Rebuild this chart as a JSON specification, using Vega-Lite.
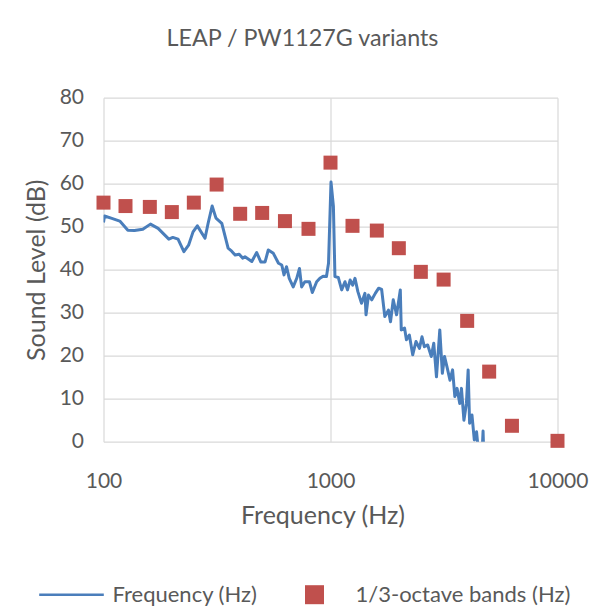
{
  "$schema": "https://vega.github.io/schema/vega-lite/v6.json",
  "width": 454,
  "height": 344,
  "autosize": {"type": "none"},
  "padding": {"left": 103.5, "top": 97.7, "right": 43.5, "bottom": 174.3},
  "background": "white",
  "title": {
    "text": "LEAP / PW1127G variants",
    "fontSize": 23.3,
    "font": "Lato",
    "fontWeight": "normal",
    "color": "#595959",
    "anchor": "middle",
    "dx": -28,
    "offset": 35
  },
  "config": {
    "view": {"stroke": null},
    "axis": {
      "labelFont": "Lato",
      "titleFont": "Lato",
      "labelColor": "#595959",
      "titleColor": "#595959",
      "titleFontWeight": "normal",
      "gridColor": "#D9D9D9",
      "gridWidth": 1.2,
      "domain": false,
      "ticks": false,
      "labelOverlap": false,
      "labelFlush": false
    },
    "legend": {
      "labelFont": "Lato",
      "labelColor": "#595959",
      "labelLimit": 0
    }
  },
  "datasets": {
    "spectrum": [
      {"frequency": 100, "level": 51.0},
      {"frequency": 101, "level": 52.5},
      {"frequency": 108, "level": 52.0},
      {"frequency": 118, "level": 51.3},
      {"frequency": 128, "level": 49.2},
      {"frequency": 137, "level": 49.1},
      {"frequency": 149, "level": 49.4},
      {"frequency": 161, "level": 50.6},
      {"frequency": 174, "level": 49.6},
      {"frequency": 194, "level": 47.1},
      {"frequency": 202, "level": 47.5},
      {"frequency": 213, "level": 47.1},
      {"frequency": 226, "level": 44.2},
      {"frequency": 237, "level": 45.7},
      {"frequency": 248, "level": 48.8},
      {"frequency": 259, "level": 50.2},
      {"frequency": 280, "level": 47.3},
      {"frequency": 289, "level": 50.8},
      {"frequency": 301, "level": 54.8},
      {"frequency": 313, "level": 52.0},
      {"frequency": 332, "level": 50.8},
      {"frequency": 354, "level": 45.0},
      {"frequency": 367, "level": 44.3},
      {"frequency": 380, "level": 43.4},
      {"frequency": 396, "level": 43.6},
      {"frequency": 410, "level": 42.7},
      {"frequency": 420, "level": 43.0},
      {"frequency": 450, "level": 41.9},
      {"frequency": 473, "level": 44.0},
      {"frequency": 493, "level": 41.8},
      {"frequency": 515, "level": 41.8},
      {"frequency": 532, "level": 44.6},
      {"frequency": 560, "level": 43.8},
      {"frequency": 590, "level": 41.5},
      {"frequency": 610, "level": 41.1},
      {"frequency": 624, "level": 38.8},
      {"frequency": 640, "level": 40.7},
      {"frequency": 658, "level": 38.0},
      {"frequency": 685, "level": 36.0},
      {"frequency": 710, "level": 38.0},
      {"frequency": 730, "level": 40.3},
      {"frequency": 746, "level": 36.0},
      {"frequency": 771, "level": 37.2},
      {"frequency": 808, "level": 37.2},
      {"frequency": 832, "level": 34.7},
      {"frequency": 869, "level": 37.2},
      {"frequency": 898, "level": 38.0},
      {"frequency": 928, "level": 38.5},
      {"frequency": 960, "level": 38.4},
      {"frequency": 980, "level": 41.5},
      {"frequency": 1005, "level": 60.4},
      {"frequency": 1030, "level": 54.7},
      {"frequency": 1046, "level": 38.4},
      {"frequency": 1082, "level": 38.2},
      {"frequency": 1120, "level": 35.3},
      {"frequency": 1158, "level": 37.2},
      {"frequency": 1188, "level": 35.3},
      {"frequency": 1220, "level": 37.6},
      {"frequency": 1252, "level": 36.4},
      {"frequency": 1282, "level": 38.0},
      {"frequency": 1320, "level": 34.9},
      {"frequency": 1370, "level": 32.2},
      {"frequency": 1418, "level": 34.5},
      {"frequency": 1434, "level": 29.5},
      {"frequency": 1470, "level": 34.1},
      {"frequency": 1520, "level": 33.0},
      {"frequency": 1575, "level": 34.5},
      {"frequency": 1630, "level": 35.7},
      {"frequency": 1680, "level": 35.4},
      {"frequency": 1735, "level": 29.1},
      {"frequency": 1800, "level": 30.6},
      {"frequency": 1838, "level": 27.9},
      {"frequency": 1890, "level": 33.0},
      {"frequency": 1955, "level": 29.5},
      {"frequency": 2030, "level": 35.3},
      {"frequency": 2050, "level": 26.0},
      {"frequency": 2120, "level": 26.4},
      {"frequency": 2160, "level": 23.7},
      {"frequency": 2225, "level": 24.8},
      {"frequency": 2302, "level": 20.2},
      {"frequency": 2380, "level": 23.3},
      {"frequency": 2465, "level": 21.7},
      {"frequency": 2530, "level": 24.4},
      {"frequency": 2590, "level": 22.1},
      {"frequency": 2680, "level": 22.5},
      {"frequency": 2780, "level": 19.8},
      {"frequency": 2850, "level": 22.9},
      {"frequency": 2930, "level": 15.1},
      {"frequency": 3030, "level": 26.0},
      {"frequency": 3110, "level": 15.9},
      {"frequency": 3180, "level": 19.8},
      {"frequency": 3260, "level": 17.4},
      {"frequency": 3360, "level": 14.3},
      {"frequency": 3450, "level": 16.7},
      {"frequency": 3530, "level": 10.5},
      {"frequency": 3610, "level": 12.4},
      {"frequency": 3710, "level": 8.9},
      {"frequency": 3775, "level": 12.4},
      {"frequency": 3870, "level": 5.0},
      {"frequency": 3970, "level": 8.9},
      {"frequency": 4040, "level": 16.7},
      {"frequency": 4100, "level": 4.3},
      {"frequency": 4200, "level": 6.2},
      {"frequency": 4300, "level": 0.4},
      {"frequency": 4400, "level": 2.3},
      {"frequency": 4480, "level": -2.0},
      {"frequency": 4560, "level": -6.0},
      {"frequency": 4650, "level": -3.0},
      {"frequency": 4700, "level": 2.5},
      {"frequency": 4740, "level": -4.0},
      {"frequency": 4800, "level": -10.0}
    ],
    "bands": [
      {"frequency": 100, "level": 55.6},
      {"frequency": 125, "level": 54.8},
      {"frequency": 160, "level": 54.6},
      {"frequency": 200, "level": 53.4},
      {"frequency": 250, "level": 55.6},
      {"frequency": 315, "level": 59.8},
      {"frequency": 400, "level": 53.0},
      {"frequency": 500, "level": 53.2},
      {"frequency": 630, "level": 51.3},
      {"frequency": 800, "level": 49.5},
      {"frequency": 1000, "level": 64.9},
      {"frequency": 1250, "level": 50.2},
      {"frequency": 1600, "level": 49.1},
      {"frequency": 2000, "level": 45.0},
      {"frequency": 2500, "level": 39.5},
      {"frequency": 3150, "level": 37.7},
      {"frequency": 4000, "level": 28.1},
      {"frequency": 5000, "level": 16.3},
      {"frequency": 6300, "level": 3.7},
      {"frequency": 10000, "level": 0.2}
    ]
  },
  "layer": [
    {
      "data": {"name": "spectrum"},
      "mark": {"type": "line", "strokeWidth": 3, "clip": true, "strokeJoin": "round"},
      "encoding": {
        "x": {
          "field": "frequency",
          "type": "quantitative",
          "scale": {"type": "log", "domain": [100, 10000], "nice": false},
          "axis": {
            "values": [100, 1000, 10000],
            "format": "d",
            "labelFontSize": 21,
            "labelPadding": 29,
            "title": "Frequency (Hz)",
            "titleFontSize": 25,
            "titlePadding": 12,
            "titleX": 219
          }
        },
        "y": {
          "field": "level",
          "type": "quantitative",
          "scale": {"domain": [0, 80], "nice": false},
          "axis": {
            "values": [0, 10, 20, 30, 40, 50, 60, 70, 80],
            "labelFontSize": 21,
            "labelPadding": 20,
            "title": "Sound Level (dB)",
            "titleFontSize": 25,
            "titlePadding": 10
          }
        },
        "color": {
          "datum": "Frequency (Hz)",
          "scale": {
            "domain": ["Frequency (Hz)", "1/3-octave bands (Hz)"],
            "range": ["#4A7EBB", "#C0504D"]
          },
          "legend": {
            "title": null,
            "orient": "none",
            "legendX": -43,
            "legendY": 486,
            "direction": "horizontal",
            "labelFontSize": 22,
            "labelLimit": 0,
            "symbolSize": 361,
            "labelOffset": 30,
            "columnPadding": 46,
            "encode": {
              "symbols": {
                "update": {
                  "fill": {"scale": "color", "field": "value"},
                  "stroke": {"value": "transparent"},
                  "strokeWidth": {"value": 0},
                  "size": {"value": 361},
                  "opacity": {"value": 1}
                }
              }
            }
          }
        }
      }
    },
    {
      "data": {"name": "bands"},
      "mark": {"type": "point", "filled": true, "size": 196, "opacity": 1},
      "encoding": {
        "x": {"field": "frequency", "type": "quantitative"},
        "y": {"field": "level", "type": "quantitative"},
        "color": {"datum": "1/3-octave bands (Hz)"},
        "shape": {
          "datum": "1/3-octave bands (Hz)",
          "scale": {
            "domain": ["Frequency (Hz)", "1/3-octave bands (Hz)"],
            "range": ["M-3.4,-0.13H3.4V0.13H-3.4Z", "square"]
          },
          "legend": {
            "title": null,
            "orient": "none",
            "legendX": -43,
            "legendY": 486,
            "direction": "horizontal",
            "labelFontSize": 22,
            "labelLimit": 0,
            "symbolSize": 361,
            "labelOffset": 30,
            "columnPadding": 46,
            "encode": {
              "symbols": {
                "update": {
                  "fill": {"scale": "color", "field": "value"},
                  "stroke": {"value": "transparent"},
                  "strokeWidth": {"value": 0},
                  "size": {"value": 361},
                  "opacity": {"value": 1}
                }
              }
            }
          }
        }
      }
    }
  ]
}
